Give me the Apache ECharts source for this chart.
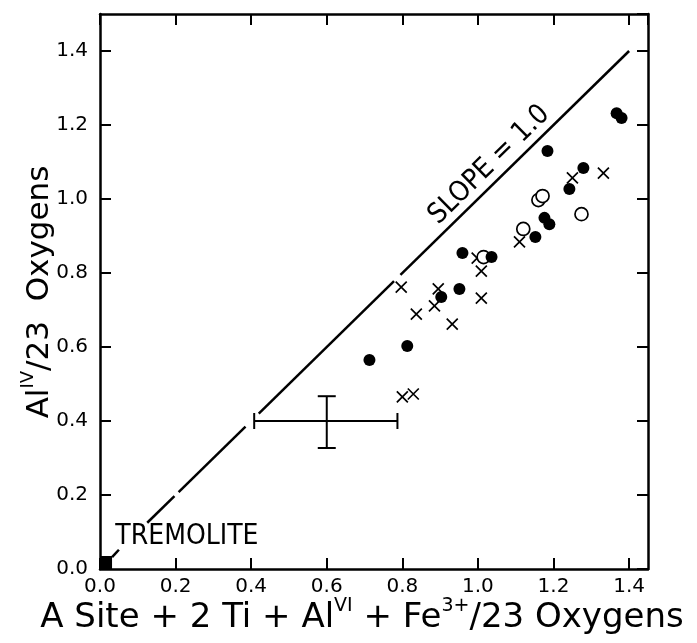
<!DOCTYPE html>
<html>
<head>
<meta charset="utf-8">
<script src="https://cdn.jsdelivr.net/npm/echarts@6/dist/echarts.min.js"></script>
<style>
  html, body { margin: 0; padding: 0; background: #fff; }
  #chart { width: 697px; height: 643px; }
</style>
</head>
<body>
<div id="chart"></div>
<script>
// filled circles
const filledPts = [
  [0.713, 0.565], [0.813, 0.603], [0.903, 0.735], [0.951, 0.757], [0.959, 0.854],
  [1.036, 0.843], [1.152, 0.897], [1.176, 0.949], [1.189, 0.932], [1.184, 1.130],
  [1.242, 1.027], [1.279, 1.084], [1.367, 1.232], [1.380, 1.219]
];
// open circles
const openPts = [
  [1.015, 0.843], [1.120, 0.919], [1.160, 0.997], [1.171, 1.008], [1.274, 0.959]
];
// crosses
const crossPts = [
  [0.797, 0.762], [0.895, 0.757], [0.885, 0.711], [0.837, 0.689], [0.932, 0.662],
  [1.009, 0.805], [1.009, 0.732], [0.998, 0.840], [1.110, 0.884], [1.250, 1.057],
  [1.332, 1.070], [0.800, 0.465], [0.829, 0.473]
];
// slope = 1 line, drawn in pieces (gaps as in the original)
const slopeSegments = [
  [0.125, 0.197], [0.208, 0.385], [0.420, 0.778], [0.795, 1.400]
];
// error bar: x, y, xLow, xHigh, yLow, yHigh
const errorBar = [[0.6, 0.4, 0.408, 0.787, 0.327, 0.467]];
const tremolite = [[0.016, 0.0175]];
const leader = [[0.032, 0.032], [0.05, 0.052]];
const xTicks = { min: 0, max: 1.45, interval: 0.2 };
const yTicks = { min: 0, max: 1.5, interval: 0.2 };

const chart = echarts.init(document.getElementById('chart'));

const tickFont = { fontFamily: 'DejaVu Sans', fontSize: 20, color: '#000' };
const fmt = (v) => v.toFixed(1);

const axisBase = (pos, label, range) => Object.assign({
  type: 'value',
  position: pos,
  splitLine: { show: false },
  axisLine: { show: true, onZero: false, lineStyle: { color: '#000', width: 2.5 } },
  axisTick: { show: true, inside: true, length: 11, lineStyle: { color: '#000', width: 2 } },
  axisLabel: label
    ? Object.assign({ show: true, showMaxLabel: false, formatter: fmt }, tickFont, label)
    : { show: false }
}, range);

const segSeries = slopeSegments.map((s) => ({
  type: 'line',
  data: [[s[0], s[0]], [s[1], s[1]]],
  showSymbol: false,
  silent: true,
  lineStyle: { color: '#000', width: 2.5 }
}));

const noteLabel = { fontFamily: 'Liberation Sans Narrow, DejaVu Sans Condensed', fontSize: 28, color: '#000' };

const option = {
  animation: false,
  grid: { left: 100, right: 49, top: 14, bottom: 74, containLabel: false, outerBoundsMode: 'none' },
  xAxis: [
    axisBase('bottom', { margin: 8 }, xTicks),
    axisBase('top', null, xTicks)
  ],
  yAxis: [
    axisBase('left', { margin: 12 }, yTicks),
    axisBase('right', null, yTicks)
  ],
  graphic: [
    {
      type: 'text',
      x: 362, y: 635,
      style: {
        text: '{n|A Site + 2 Ti + Al}{s|VI}{n| + Fe}{s|3+}{n|/23 Oxygens}',
        align: 'center', verticalAlign: 'bottom',
        rich: {
          n: { fontFamily: 'DejaVu Sans', fontSize: 34, fill: '#000', lineHeight: 38, verticalAlign: 'bottom' },
          s: { fontFamily: 'DejaVu Sans', fontSize: 19, fill: '#000', lineHeight: 38, verticalAlign: 'top' }
        }
      }
    },
    {
      type: 'text',
      x: 37, y: 292,
      rotation: Math.PI / 2,
      style: {
        text: '{n|Al}{s|IV}{n|/23  Oxygens}',
        align: 'center', verticalAlign: 'middle',
        rich: {
          n: { fontFamily: 'DejaVu Sans', fontSize: 31, fill: '#000', lineHeight: 36, verticalAlign: 'bottom' },
          s: { fontFamily: 'DejaVu Sans', fontSize: 18, fill: '#000', lineHeight: 36, verticalAlign: 'top' }
        }
      }
    }
  ],
  series: segSeries.concat([
    {
      type: 'line',
      data: leader,
      showSymbol: false,
      lineStyle: { color: '#000', width: 2.5 }
    },
    {
      type: 'scatter',
      data: tremolite,
      symbol: 'rect',
      symbolSize: [12, 13],
      itemStyle: { color: '#000', opacity: 1 }
    },
    {
      type: 'custom',
      data: errorBar,
      renderItem: (params, api) => {
        const c = api.coord([api.value(0), api.value(1)]);
        const l = api.coord([api.value(2), api.value(1)]);
        const r = api.coord([api.value(3), api.value(1)]);
        const b = api.coord([api.value(0), api.value(4)]);
        const t = api.coord([api.value(0), api.value(5)]);
        const st = { stroke: '#000', lineWidth: 2 };
        return {
          type: 'group',
          children: [
            { type: 'line', shape: { x1: l[0], y1: c[1], x2: r[0], y2: c[1] }, style: st },
            { type: 'line', shape: { x1: l[0], y1: c[1] - 8, x2: l[0], y2: c[1] + 8 }, style: st },
            { type: 'line', shape: { x1: r[0], y1: c[1] - 8, x2: r[0], y2: c[1] + 8 }, style: st },
            { type: 'line', shape: { x1: c[0], y1: t[1], x2: c[0], y2: b[1] }, style: st },
            { type: 'line', shape: { x1: c[0] - 9, y1: t[1], x2: c[0] + 9, y2: t[1] }, style: st },
            { type: 'line', shape: { x1: c[0] - 9, y1: b[1], x2: c[0] + 9, y2: b[1] }, style: st }
          ]
        };
      }
    },
    {
      type: 'scatter',
      data: crossPts,
      symbol: 'path://M0,0L10,10M10,0L0,10',
      symbolSize: 11,
      itemStyle: { color: 'none', borderColor: '#000', borderWidth: 1.7, opacity: 1 }
    },
    {
      type: 'scatter',
      data: openPts,
      symbol: 'circle',
      symbolSize: 13,
      itemStyle: { color: '#fff', borderColor: '#000', borderWidth: 1.7, opacity: 1 }
    },
    {
      type: 'scatter',
      data: filledPts,
      symbol: 'circle',
      symbolSize: 12,
      itemStyle: { color: '#000', opacity: 1 }
    },
    {
      type: 'scatter',
      data: [[1.03, 1.092]],
      symbolSize: 0,
      silent: true,
      itemStyle: { opacity: 1 },
      label: Object.assign({ show: true, position: 'inside', rotate: 44.4, formatter: 'SLOPE = 1.0' }, noteLabel)
    },
    {
      type: 'scatter',
      data: [[0.23, 0.086]],
      symbolSize: 0,
      silent: true,
      itemStyle: { opacity: 1 },
      label: Object.assign({ show: true, position: 'inside', formatter: 'TREMOLITE' }, noteLabel)
    }
  ])
};

chart.setOption(option);
</script>
</body>
</html>
